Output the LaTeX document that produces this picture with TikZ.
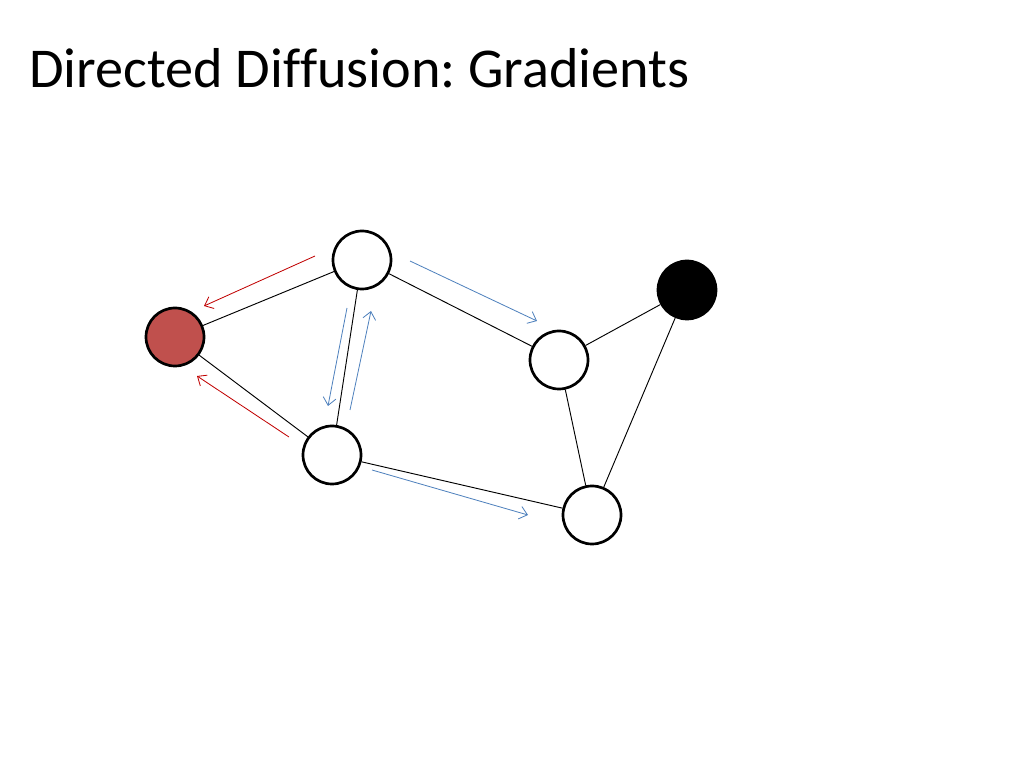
\documentclass[tikz,border=0pt]{standalone}
\usepackage{fontspec}
\setmainfont[Ligatures=NoCommon]{Carlito}
\usepackage{xcolor}
\usepackage{tikz}
\usetikzlibrary{arrows.meta, positioning}

\definecolor{srcred}{HTML}{C0504D}
\definecolor{gradred}{HTML}{C00000}
\definecolor{gradblue}{HTML}{4F81BD}

\frenchspacing
\begin{document}
\begin{tikzpicture}[
            x=0.03cm, y=-0.03cm,
            every node/.style={circle, draw, line width=2.3pt, minimum size=1.74cm, inner sep=0pt, fill=white},
            sinknode/.style={fill=srcred},
            sourcenode/.style={fill=black},
            invisible/.style={draw=none, fill=none, inner sep=0pt, minimum size=0pt},
            link/.style={line width=0.8pt},
            redgrad/.style={draw=gradred, line width=0.7pt, -{Straight Barb[length=6.5pt,width=11pt]}},
            bluegrad/.style={draw=gradblue, line width=0.7pt, -{Straight Barb[length=6.5pt,width=11pt]}},
        ]
        \useasboundingbox (0,0) rectangle (1024,768);

        \node[invisible, anchor=base west, font=\fontsize{48}{58}\selectfont] (title) at (28,88) {Directed Diffusion: Gradients};

        \node (s) at (175,337) [sinknode] {};
        \node (a) at (362,260) {};
        \node (b) at (332,455) {};
        \node (c) at (559,360) {};
        \node (k) at (687,290) [sourcenode] {};
        \node (d) at (592,515) {};

        \draw[link] (a) -- (s);
        \draw[link] (b) -- (s);
        \draw[link] (a) -- (b);
        \draw[link] (a) -- (c);
        \draw[link] (b) -- (d);
        \draw[link] (c) -- (k);
        \draw[link] (c) -- (d);
        \draw[link] (k) -- (d);

        % gradients
        \coordinate (g1s) at (315,256);
        \coordinate (g1e) at (204,306);
        \coordinate (g2s) at (289,437);
        \coordinate (g2e) at (197,376);
        \coordinate (g3s) at (347,308);
        \coordinate (g3e) at (328,406);
        \coordinate (g4s) at (350,410);
        \coordinate (g4e) at (371,311);
        \coordinate (g5s) at (410,261);
        \coordinate (g5e) at (537,321);
        \coordinate (g6s) at (372,470);
        \coordinate (g6e) at (528,515);

        \draw[redgrad] (g1s) -- (g1e);
        \draw[redgrad] (g2s) -- (g2e);
        \draw[bluegrad] (g3s) -- (g3e);
        \draw[bluegrad] (g4s) -- (g4e);
        \draw[bluegrad] (g5s) -- (g5e);
        \draw[bluegrad] (g6s) -- (g6e);

        \end{tikzpicture}
\end{document}
